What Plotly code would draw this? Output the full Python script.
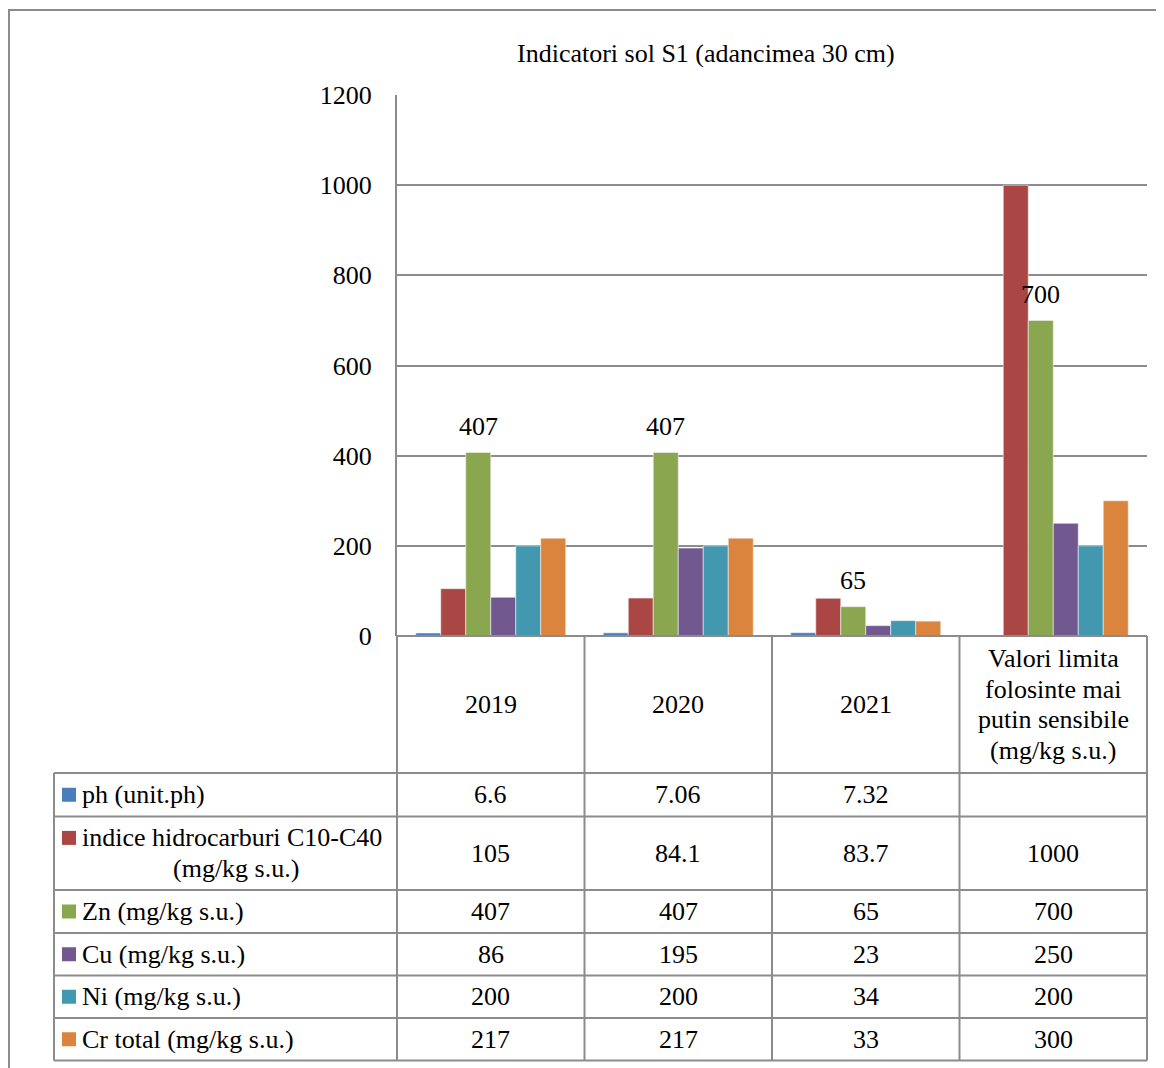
import plotly.graph_objects as go

years = ["2019", "2020", "2021", "Valori limita"]
year_labels = [["2019"], ["2020"], ["2021"],
               ["Valori limita", "folosinte mai", "putin sensibile", "(mg/kg s.u.)"]]

series_names = ["ph (unit.ph)", "indice hidrocarburi C10-C40 (mg/kg s.u.)", "Zn (mg/kg s.u.)",
                "Cu (mg/kg s.u.)", "Ni (mg/kg s.u.)", "Cr total (mg/kg s.u.)"]
series_lines = [["ph (unit.ph)"], ["indice hidrocarburi C10-C40", "(mg/kg s.u.)"], ["Zn (mg/kg s.u.)"],
                ["Cu (mg/kg s.u.)"], ["Ni (mg/kg s.u.)"], ["Cr total (mg/kg s.u.)"]]

ph = [6.6, 7.06, 7.32, None]
hidrocarburi = [105, 84.1, 83.7, 1000]
zn = [407, 407, 65, 700]
cu = [86, 195, 23, 250]
ni = [200, 200, 34, 200]
cr = [217, 217, 33, 300]
values = [ph, hidrocarburi, zn, cu, ni, cr]

colors = ["#4A7EBB", "#AA4643", "#8AA64F", "#71588F", "#4198AF", "#DB843D"]

# page body has an 8px margin, so the figure is drawn 8px smaller and shifted
OFF = 8
W, H = 1164 - OFF, 1068 - OFF
FONT = "Liberation Serif, Times New Roman, serif"
FS = 26
GRID = "#8C8C8C"


def px(x):
    return (x - OFF) / W


def py(y):
    return 1 - (y - OFF) / H


# plot area in target pixels
X0, X1 = 397, 1147
Y_TOP, Y_BOT = 95, 636

pos = list(range(len(years)))

fig = go.Figure()
for name, vals, c in zip(series_names, values, colors):
    fig.add_trace(go.Bar(
        x=pos, y=vals, name=name, marker_color=c,
        marker_line=dict(color="#F2F2F2", width=0.6),
    ))

shapes = []
annotations = []

# outer frame
shapes.append(dict(type="rect", xref="paper", yref="paper", x0=px(9), x1=px(1180), y0=py(10), y1=py(1090),
                   line=dict(color="#8C8C8C", width=2)))

# table grid
row_edges = [773, 816.5, 890, 933, 975.5, 1018, 1060.5]
col_edges = [X0 + i * (X1 - X0) / 4 for i in range(5)]
LEFT = 54
line = dict(color=GRID, width=2)
shapes.append(dict(type="line", xref="paper", yref="paper", x0=px(X0), x1=px(X1), y0=py(Y_BOT), y1=py(Y_BOT), line=line))
for ce in col_edges:
    shapes.append(dict(type="line", xref="paper", yref="paper", x0=px(ce), x1=px(ce),
                       y0=py(Y_BOT), y1=py(row_edges[-1]), line=line))
shapes.append(dict(type="line", xref="paper", yref="paper", x0=px(LEFT), x1=px(LEFT),
                   y0=py(row_edges[0]), y1=py(row_edges[-1]), line=line))
for re in row_edges:
    shapes.append(dict(type="line", xref="paper", yref="paper", x0=px(LEFT), x1=px(X1),
                       y0=py(re), y1=py(re), line=line))

# header row: category labels
LINE_H = 30.7
for p, lines in zip(pos, year_labels):
    mid = (Y_BOT + row_edges[0]) / 2
    start = mid - LINE_H * (len(lines) - 1) / 2
    for k, t in enumerate(lines):
        annotations.append(dict(x=p, xref="x", y=py(start + k * LINE_H), yref="paper", text=t,
                                showarrow=False, xanchor="center", yanchor="middle",
                                font=dict(family=FONT, size=FS, color="black")))

# data rows
for i, (lines, vals, c) in enumerate(zip(series_lines, values, colors)):
    top, bot = row_edges[i], row_edges[i + 1]
    mid = (top + bot) / 2
    start = mid - LINE_H * (len(lines) - 1) / 2
    # key square
    shapes.append(dict(type="rect", xref="paper", yref="paper", x0=px(62), x1=px(76),
                       y0=py(start + 7), y1=py(start - 7), fillcolor=c, line=dict(width=0)))
    annotations.append(dict(x=px(80), xref="paper", y=py(start), yref="paper", text=lines[0],
                            showarrow=False, xanchor="left", yanchor="middle",
                            font=dict(family=FONT, size=FS, color="black")))
    for k, t in enumerate(lines[1:], start=1):
        annotations.append(dict(x=px(236), xref="paper", y=py(start + k * LINE_H), yref="paper", text=t,
                                showarrow=False, xanchor="center", yanchor="middle",
                                font=dict(family=FONT, size=FS, color="black")))
    for p, v in zip(pos, vals):
        if v is None:
            continue
        annotations.append(dict(x=p, xref="x", y=py(mid), yref="paper", text=f"{v:g}",
                                showarrow=False, xanchor="center", yanchor="middle",
                                font=dict(family=FONT, size=FS, color="black")))

# Zn data labels above bars (Zn is the 3rd of 6 bars in each group)
slot = 0.8 / 6
for p, v in zip(pos, zn):
    annotations.append(dict(x=p - 0.4 + 2.5 * slot, xref="x", y=v, yref="y", text=f"{v:g}", showarrow=False,
                            yshift=26, xanchor="center", yanchor="middle",
                            font=dict(family=FONT, size=FS, color="black")))

# title
annotations.append(dict(x=px(706), xref="paper", y=py(53), yref="paper", text="Indicatori sol S1 (adancimea 30 cm)",
                        showarrow=False, xanchor="center", yanchor="middle",
                        font=dict(family=FONT, size=26, color="black")))

fig.update_layout(
    width=W, height=H,
    margin=dict(l=0, r=0, t=0, b=0, autoexpand=False),
    paper_bgcolor="white", plot_bgcolor="white",
    barmode="group", bargap=0.2, bargroupgap=0,
    showlegend=False,
    shapes=shapes, annotations=annotations,
    font=dict(family=FONT, size=FS, color="black"),
    xaxis=dict(domain=[px(X0), px(X1)], range=[-0.5, len(years) - 0.5], showticklabels=False,
               showgrid=False, zeroline=False, showline=False, ticks="", automargin=False),
    yaxis=dict(domain=[py(Y_BOT), py(Y_TOP)], range=[0, 1200], dtick=200, showgrid=True,
               gridcolor=GRID, gridwidth=1.5, zeroline=False, showline=True, linecolor=GRID,
               linewidth=2, ticks="", ticklabelstandoff=18, automargin=False,
               tickfont=dict(family=FONT, size=FS, color="black")),
)

fig.write_html("out.html")
